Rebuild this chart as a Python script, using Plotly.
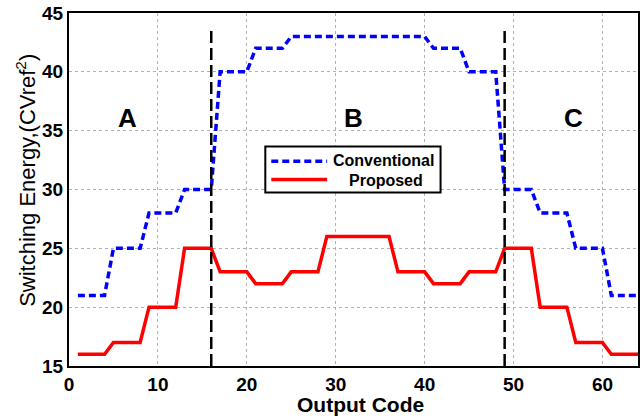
import plotly.graph_objects as go

codes = list(range(1, 65))
conventional = ([21]*4 + [25]*4 + [28]*4 + [30]*4 + [40]*4 + [42]*4 + [43]*16 +
                [42]*4 + [40]*4 + [30]*4 + [28]*4 + [25]*4 + [21]*4)
proposed = ([16]*4 + [17]*4 + [20]*4 + [25]*4 + [23]*4 + [22]*4 + [23]*4 + [26]*8 +
            [23]*4 + [22]*4 + [23]*4 + [25]*4 + [20]*4 + [17]*4 + [16]*4)
boundaries = [16, 49]
boundary_span = [15, 43.5]
region_labels = ["A", "B", "C"]
region_x = [6.6, 32, 56.8]
region_y = [36.1, 36.1, 36.1]
x_ticks = [0, 10, 20, 30, 40, 50, 60]
y_ticks = [15, 20, 25, 30, 35, 40, 45]

FONT = "Liberation Sans, Arial, sans-serif"

fig = go.Figure()
fig.add_trace(go.Scatter(x=codes, y=conventional, mode="lines", name="Conventional",
                         line=dict(color="#0000FF", width=3.5, dash="7px,4px"),
                         showlegend=False))
fig.add_trace(go.Scatter(x=codes, y=proposed, mode="lines", name="Proposed",
                         line=dict(color="#FF0000", width=3.5),
                         showlegend=False))

for b in boundaries:
    fig.add_shape(type="line", xref="x", yref="y", x0=b, x1=b,
                  y0=boundary_span[0], y1=boundary_span[1],
                  line=dict(color="black", width=2.5, dash="12px,5px"))

for t, x, y in zip(region_labels, region_x, region_y):
    fig.add_annotation(x=x, y=y, xref="x", yref="y", text="<b>%s</b>" % t,
                       showarrow=False, font=dict(family=FONT, size=26, color="black"))

# custom legend box
fig.add_shape(type="rect", xref="paper", yref="paper", x0=0.345, x1=0.653,
              y0=0.4915, y1=0.6215, line=dict(color="black", width=2),
              fillcolor="white", layer="above")
fig.add_shape(type="line", xref="paper", yref="paper", x0=0.3555, x1=0.4536,
              y0=0.58, y1=0.58, line=dict(color="#0000FF", width=3.5, dash="7px,4px"),
              layer="above")
fig.add_shape(type="line", xref="paper", yref="paper", x0=0.3555, x1=0.4536,
              y0=0.528, y1=0.528, line=dict(color="#FF0000", width=3.5),
              layer="above")
fig.add_annotation(x=0.5534, y=0.582, xref="paper", yref="paper",
                   text="<b>Conventional</b>", showarrow=False,
                   font=dict(family=FONT, size=16, color="black"))
fig.add_annotation(x=0.557, y=0.525, xref="paper", yref="paper",
                   text="<b>Proposed</b>", showarrow=False,
                   font=dict(family=FONT, size=16, color="black"))

# axis titles
fig.add_annotation(x=-0.077, y=0.525, xref="paper", yref="paper",
                   text="Switching Energy,(CVref<sup>2</sup>)", textangle=-90,
                   showarrow=False, xanchor="center", yanchor="middle",
                   font=dict(family=FONT, size=22, color="black"))
fig.add_annotation(x=0.513, y=-0.110, xref="paper", yref="paper",
                   text="<b>Output Code</b>", showarrow=False,
                   xanchor="center", yanchor="middle",
                   font=dict(family=FONT, size=21, color="black"))

axis_common = dict(showline=True, linecolor="black", linewidth=2, mirror=True,
                   showgrid=True, gridcolor="#b0b0b0", griddash="dot", gridwidth=1,
                   zeroline=False, ticks="",
                   tickfont=dict(family=FONT, size=19, color="black", weight="bold"))
fig.update_xaxes(range=[0, 64], tickvals=x_ticks, **axis_common)
fig.update_yaxes(range=[15, 45], tickvals=y_ticks, **axis_common)

fig.update_layout(width=643, height=419, margin=dict(l=69, r=3, t=12, b=53),
                  plot_bgcolor="white", paper_bgcolor="white", showlegend=False)

fig.write_html("out.html")
